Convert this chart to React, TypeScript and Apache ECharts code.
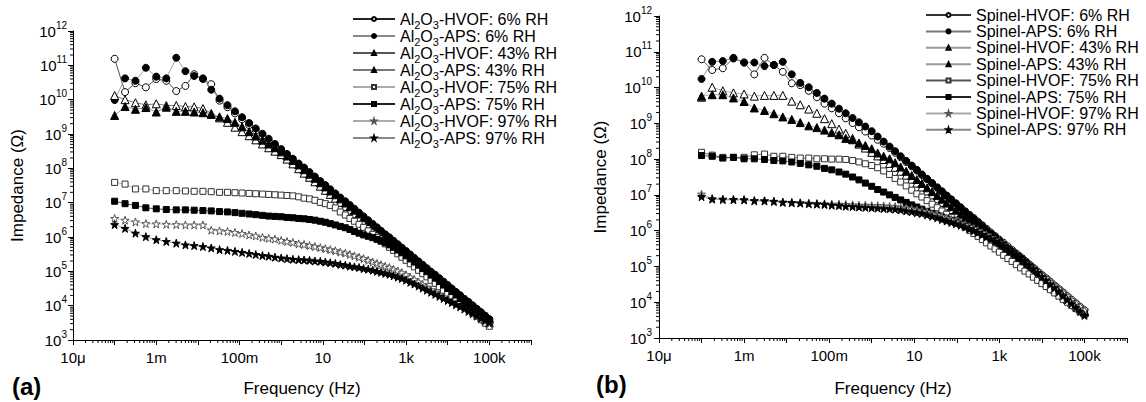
import React, { useEffect, useRef } from 'react';
import * as echarts from 'echarts';

// Frequency (Hz) of each measured point
const FREQ = [1e-4, 1.78e-4, 3.16e-4, 5.62e-4, 1e-3, 1.74e-3, 3.02e-3, 5.01e-3, 8.13e-3, 1.32e-2, 2.09e-2, 3.31e-2, 5.13e-2, 7.76e-2, 0.115, 0.17, 0.245, 0.355, 0.501, 0.708, 1, 1.38, 1.91, 2.63, 3.55, 4.79, 6.46, 8.71, 11.5, 15.1, 20, 26.3, 34.7, 44.7, 57.5, 74.1, 95.5, 123, 158, 200, 251, 316, 398, 501, 631, 794, 1000, 1259, 1585, 1995, 2512, 3162, 3981, 5012, 6310, 7943, 10000, 12589, 15849, 19953, 25119, 31623, 39811, 50119, 63096, 79433, 100000];

// Panel (a): Al2O3 coatings, impedance (Ohm)
const A_HVOF6 = [1.55e11, 1.66e10, 3.02e10, 2.29e10, 3.98e10, 3.55e10, 1.78e10, 2.51e10, 5.5e10, 3.98e10, 2.82e10, 9.33e9, 6.03e9, 3.98e9, 2.69e9, 1.82e9, 1.26e9, 8.91e8, 6.31e8, 4.47e8, 3.16e8, 2.29e8, 1.66e8, 1.2e8, 9.12e7, 6.76e7, 5.01e7, 3.72e7, 2.82e7, 2.14e7, 1.62e7, 1.23e7, 9.55e6, 7.41e6, 5.75e6, 4.47e6, 3.47e6, 2.69e6, 2.09e6, 1.66e6, 1.32e6, 1.05e6, 8.51e5, 6.76e5, 5.37e5, 4.27e5, 3.39e5, 2.69e5, 2.14e5, 1.7e5, 1.35e5, 1.07e5, 8.71e4, 6.92e4, 5.5e4, 4.37e4, 3.47e4, 2.75e4, 2.19e4, 1.74e4, 1.38e4, 1.12e4, 8.91e3, 7.08e3, 5.62e3, 4.47e3, 3.55e3];
const A_APS6 = [9.77e9, 4.17e10, 3.55e10, 8.51e10, 4.68e10, 4.17e10, 1.66e11, 6.76e10, 4.9e10, 4.17e10, 1.95e10, 1.07e10, 6.92e9, 4.57e9, 3.09e9, 2.09e9, 1.45e9, 1.02e9, 7.24e8, 5.13e8, 3.63e8, 2.63e8, 1.91e8, 1.38e8, 1.05e8, 7.76e7, 5.75e7, 4.27e7, 3.24e7, 2.45e7, 1.86e7, 1.41e7, 1.1e7, 8.51e6, 6.61e6, 5.13e6, 3.98e6, 3.09e6, 2.4e6, 1.91e6, 1.51e6, 1.2e6, 9.77e5, 7.76e5, 6.17e5, 4.9e5, 3.89e5, 3.09e5, 2.45e5, 1.95e5, 1.55e5, 1.23e5, 9.77e4, 7.94e4, 6.31e4, 5.01e4, 3.98e4, 3.16e4, 2.51e4, 2.0e4, 1.58e4, 1.29e4, 1.02e4, 8.13e3, 6.46e3, 5.13e3, 4.07e3];
const A_HVOF43 = [1.32e10, 1.0e10, 8.13e9, 7.08e9, 7.59e9, 6.76e9, 6.76e9, 6.31e9, 6.17e9, 5.5e9, 3.98e9, 2.95e9, 2.19e9, 1.58e9, 1.17e9, 8.91e8, 6.76e8, 5.13e8, 3.98e8, 3.16e8, 2.51e8, 1.86e8, 1.35e8, 9.77e7, 7.24e7, 5.5e7, 4.07e7, 3.02e7, 2.29e7, 1.74e7, 1.35e7, 1.02e7, 7.76e6, 6.03e6, 4.79e6, 3.72e6, 2.88e6, 2.24e6, 1.74e6, 1.41e6, 1.12e6, 8.91e5, 7.08e5, 5.62e5, 4.57e5, 3.63e5, 2.88e5, 2.29e5, 1.82e5, 1.48e5, 1.17e5, 9.33e4, 7.41e4, 5.89e4, 4.79e4, 3.8e4, 3.02e4, 2.4e4, 1.91e4, 1.55e4, 1.23e4, 9.77e3, 7.76e3, 6.17e3, 5.01e3, 3.98e3, 3.16e3];
const A_APS43 = [3.47e9, 6.31e9, 5.25e9, 5.89e9, 4.37e9, 6.03e9, 4.57e9, 4.57e9, 4.37e9, 4.17e9, 3.72e9, 3.16e9, 2.82e9, 2.19e9, 1.62e9, 1.17e9, 8.71e8, 6.61e8, 5.13e8, 3.98e8, 3.02e8, 2.29e8, 1.7e8, 1.26e8, 9.12e7, 6.76e7, 5.13e7, 3.8e7, 2.88e7, 2.19e7, 1.7e7, 1.29e7, 9.77e6, 7.59e6, 6.03e6, 4.68e6, 3.63e6, 2.82e6, 2.19e6, 1.78e6, 1.41e6, 1.12e6, 8.91e5, 7.08e5, 5.75e5, 4.57e5, 3.63e5, 2.88e5, 2.29e5, 1.86e5, 1.48e5, 1.17e5, 9.33e4, 7.41e4, 6.03e4, 4.79e4, 3.8e4, 3.02e4, 2.4e4, 1.95e4, 1.55e4, 1.23e4, 9.77e3, 7.76e3, 6.31e3, 5.01e3, 3.98e3];
const A_HVOF75 = [3.89e7, 3.47e7, 2.51e7, 2.51e7, 2.24e7, 2.24e7, 2.24e7, 2.19e7, 2.14e7, 2.14e7, 2.09e7, 2.0e7, 2.0e7, 1.95e7, 1.91e7, 1.86e7, 1.82e7, 1.78e7, 1.74e7, 1.7e7, 1.66e7, 1.62e7, 1.58e7, 1.48e7, 1.35e7, 1.29e7, 1.17e7, 1.02e7, 9.33e6, 8.32e6, 7.08e6, 5.37e6, 4.37e6, 3.47e6, 2.88e6, 2.34e6, 1.91e6, 1.51e6, 1.2e6, 9.77e5, 7.76e5, 6.31e5, 5.01e5, 4.07e5, 3.24e5, 2.57e5, 2.09e5, 1.66e5, 1.35e5, 1.07e5, 8.51e4, 6.92e4, 5.5e4, 4.47e4, 3.55e4, 2.82e4, 2.29e4, 1.82e4, 1.48e4, 1.17e4, 9.33e3, 7.59e3, 6.03e3, 4.9e3, 3.89e3, 3.09e3, 2.51e3];
const A_APS75 = [1.1e7, 9.33e6, 8.32e6, 7.08e6, 6.61e6, 6.31e6, 6.17e6, 6.17e6, 6.03e6, 5.89e6, 5.75e6, 5.5e6, 5.37e6, 5.13e6, 4.9e6, 4.68e6, 4.47e6, 4.27e6, 4.07e6, 3.98e6, 3.89e6, 3.72e6, 3.63e6, 3.47e6, 3.39e6, 3.24e6, 3.09e6, 2.88e6, 2.69e6, 2.45e6, 2.24e6, 2.04e6, 1.86e6, 1.66e6, 1.45e6, 1.29e6, 1.15e6, 1.05e6, 9.55e5, 8.51e5, 7.59e5, 6.76e5, 5.89e5, 5.01e5, 4.17e5, 3.47e5, 2.82e5, 2.29e5, 1.86e5, 1.51e5, 1.2e5, 9.77e4, 7.76e4, 6.31e4, 5.01e4, 3.98e4, 3.16e4, 2.57e4, 2.04e4, 1.62e4, 1.29e4, 1.05e4, 8.32e3, 6.61e3, 5.25e3, 4.27e3, 3.39e3];
const A_HVOF97 = [3.47e6, 3.09e6, 2.75e6, 2.45e6, 2.4e6, 2.34e6, 2.29e6, 2.24e6, 2.24e6, 2.24e6, 1.58e6, 1.51e6, 1.45e6, 1.35e6, 1.26e6, 1.15e6, 1.07e6, 9.77e5, 9.12e5, 8.71e5, 7.94e5, 7.41e5, 6.92e5, 6.31e5, 6.03e5, 5.62e5, 5.25e5, 4.9e5, 4.57e5, 4.27e5, 3.98e5, 3.63e5, 3.39e5, 3.09e5, 2.82e5, 2.57e5, 2.34e5, 2.09e5, 1.86e5, 1.7e5, 1.55e5, 1.41e5, 1.29e5, 1.15e5, 1.02e5, 9.12e4, 7.94e4, 6.76e4, 5.75e4, 4.9e4, 4.17e4, 3.47e4, 2.88e4, 2.45e4, 2.09e4, 1.78e4, 1.51e4, 1.29e4, 1.1e4, 9.33e3, 7.94e3, 6.76e3, 5.75e3, 4.9e3, 4.17e3, 3.55e3, 3.02e3];
const A_APS97 = [2.29e6, 1.78e6, 1.29e6, 1.02e6, 8.32e5, 7.41e5, 6.61e5, 5.89e5, 5.62e5, 5.25e5, 4.79e5, 4.27e5, 4.07e5, 3.8e5, 3.55e5, 3.31e5, 3.09e5, 2.88e5, 2.75e5, 2.57e5, 2.45e5, 2.34e5, 2.24e5, 2.19e5, 2.14e5, 2.09e5, 2.0e5, 1.95e5, 1.86e5, 1.78e5, 1.7e5, 1.58e5, 1.51e5, 1.41e5, 1.35e5, 1.29e5, 1.2e5, 1.15e5, 1.07e5, 1.0e5, 9.33e4, 8.71e4, 8.13e4, 7.41e4, 6.76e4, 6.17e4, 5.5e4, 4.79e4, 4.27e4, 3.72e4, 3.24e4, 2.82e4, 2.45e4, 2.14e4, 1.86e4, 1.62e4, 1.41e4, 1.23e4, 1.07e4, 9.33e3, 8.13e3, 6.92e3, 6.03e3, 5.13e3, 4.37e3, 3.8e3, 3.24e3];

// Panel (b): Spinel coatings, impedance (Ohm)
const B_HVOF6 = [6.17e10, 3.09e10, 3.47e10, 6.46e10, 5.01e10, 2.34e10, 6.76e10, 4.27e10, 2.75e10, 1.32e10, 1.17e10, 8.13e9, 5.37e9, 3.55e9, 2.63e9, 1.91e9, 1.38e9, 1.02e9, 7.76e8, 5.89e8, 4.57e8, 3.47e8, 2.69e8, 2.04e8, 1.51e8, 1.12e8, 8.32e7, 6.31e7, 4.79e7, 3.63e7, 2.75e7, 2.09e7, 1.58e7, 1.23e7, 9.55e6, 7.41e6, 5.75e6, 4.47e6, 3.47e6, 2.75e6, 2.24e6, 1.78e6, 1.41e6, 1.12e6, 8.91e5, 7.08e5, 5.62e5, 4.57e5, 3.63e5, 2.88e5, 2.29e5, 1.82e5, 1.45e5, 1.15e5, 9.12e4, 7.24e4, 5.75e4, 4.68e4, 3.72e4, 2.95e4, 2.34e4, 1.86e4, 1.48e4, 1.17e4, 9.33e3, 7.41e3, 6.03e3];
const B_APS6 = [1.74e10, 5.25e10, 5.5e10, 6.76e10, 5.01e10, 5.01e10, 3.98e10, 4.27e10, 5.25e10, 2.34e10, 1.35e10, 1.02e10, 7.08e9, 4.9e9, 3.55e9, 2.57e9, 1.91e9, 1.41e9, 1.07e9, 8.13e8, 6.03e8, 4.27e8, 3.09e8, 2.24e8, 1.66e8, 1.2e8, 8.91e7, 6.61e7, 5.01e7, 3.72e7, 2.82e7, 2.14e7, 1.62e7, 1.26e7, 9.55e6, 7.41e6, 5.75e6, 4.47e6, 3.39e6, 2.69e6, 2.14e6, 1.7e6, 1.35e6, 1.05e6, 8.32e5, 6.61e5, 5.25e5, 4.17e5, 3.24e5, 2.57e5, 2.04e5, 1.62e5, 1.29e5, 1.0e5, 7.94e4, 6.31e4, 5.01e4, 3.98e4, 3.09e4, 2.45e4, 1.95e4, 1.55e4, 1.23e4, 9.55e3, 7.59e3, 6.03e3, 4.79e3];
const B_HVOF43 = [5.37e9, 1.02e10, 8.13e9, 7.08e9, 6.61e9, 5.75e9, 6.03e9, 6.03e9, 6.03e9, 4.17e9, 3.31e9, 2.51e9, 1.91e9, 1.35e9, 9.77e8, 6.92e8, 5.25e8, 3.8e8, 2.63e8, 2.04e8, 1.55e8, 1.23e8, 9.77e7, 7.59e7, 5.89e7, 4.57e7, 3.55e7, 2.75e7, 2.14e7, 1.66e7, 1.29e7, 1.0e7, 7.76e6, 6.17e6, 4.9e6, 3.89e6, 3.09e6, 2.45e6, 1.95e6, 1.58e6, 1.29e6, 1.05e6, 8.32e5, 6.76e5, 5.5e5, 4.47e5, 3.63e5, 2.88e5, 2.34e5, 1.91e5, 1.55e5, 1.26e5, 1.0e5, 8.13e4, 6.61e4, 5.37e4, 4.37e4, 3.47e4, 2.82e4, 2.29e4, 1.86e4, 1.51e4, 1.2e4, 9.77e3, 7.94e3, 6.46e3, 5.25e3];
const B_APS43 = [5.75e9, 6.31e9, 6.31e9, 5.13e9, 4.07e9, 2.69e9, 2.29e9, 1.86e9, 1.51e9, 1.29e9, 1.05e9, 8.51e8, 7.59e8, 6.46e8, 5.5e8, 4.79e8, 3.8e8, 3.47e8, 2.82e8, 2.4e8, 1.95e8, 1.48e8, 1.2e8, 1.02e8, 7.94e7, 6.03e7, 4.57e7, 3.47e7, 2.69e7, 2.09e7, 1.58e7, 1.23e7, 9.55e6, 7.59e6, 5.89e6, 4.68e6, 3.72e6, 2.88e6, 2.29e6, 1.86e6, 1.48e6, 1.2e6, 9.77e5, 7.76e5, 6.31e5, 5.01e5, 4.07e5, 3.31e5, 2.63e5, 2.14e5, 1.7e5, 1.38e5, 1.12e5, 8.91e4, 7.24e4, 5.75e4, 4.68e4, 3.8e4, 3.02e4, 2.45e4, 1.95e4, 1.58e4, 1.26e4, 1.02e4, 8.32e3, 6.61e3, 5.37e3];
const B_HVOF75 = [1.55e8, 1.29e8, 1.12e8, 1.12e8, 1.12e8, 1.32e8, 1.38e8, 1.2e8, 1.2e8, 1.12e8, 1.07e8, 1.07e8, 1.02e8, 1.02e8, 1.0e8, 1.0e8, 9.77e7, 9.12e7, 8.32e7, 7.41e7, 6.61e7, 5.75e7, 4.68e7, 3.72e7, 2.88e7, 2.29e7, 1.78e7, 1.35e7, 1.07e7, 8.71e6, 6.92e6, 5.5e6, 4.37e6, 3.55e6, 2.88e6, 2.34e6, 1.91e6, 1.55e6, 1.26e6, 1.02e6, 8.32e5, 6.92e5, 5.62e5, 4.57e5, 3.72e5, 3.09e5, 2.51e5, 2.04e5, 1.66e5, 1.38e5, 1.12e5, 9.12e4, 7.41e4, 6.17e4, 5.01e4, 4.07e4, 3.31e4, 2.75e4, 2.24e4, 1.82e4, 1.48e4, 1.2e4, 1.0e4, 8.13e3, 6.61e3, 5.37e3, 4.47e3];
const B_APS75 = [1.26e8, 1.2e8, 1.07e8, 1.12e8, 1.02e8, 1.02e8, 9.77e7, 9.12e7, 8.91e7, 8.32e7, 7.59e7, 6.92e7, 6.31e7, 5.5e7, 5.01e7, 4.37e7, 3.8e7, 3.16e7, 2.63e7, 2.14e7, 1.74e7, 1.41e7, 1.2e7, 1.0e7, 8.51e6, 7.24e6, 6.17e6, 5.25e6, 4.57e6, 3.98e6, 3.47e6, 3.02e6, 2.69e6, 2.4e6, 2.14e6, 1.95e6, 1.74e6, 1.55e6, 1.35e6, 1.17e6, 1.05e6, 9.12e5, 7.94e5, 6.92e5, 6.03e5, 5.13e5, 4.37e5, 3.72e5, 3.09e5, 2.57e5, 2.09e5, 1.7e5, 1.35e5, 1.07e5, 8.51e4, 6.76e4, 5.37e4, 4.27e4, 3.39e4, 2.69e4, 2.14e4, 1.66e4, 1.32e4, 1.02e4, 8.13e3, 6.31e3, 5.01e3];
const B_HVOF97 = [1.05e7, 7.94e6, 7.24e6, 7.24e6, 7.41e6, 6.76e6, 6.92e6, 6.46e6, 6.31e6, 6.17e6, 6.03e6, 5.89e6, 5.75e6, 5.62e6, 5.5e6, 5.5e6, 5.37e6, 5.25e6, 5.13e6, 5.13e6, 5.01e6, 5.01e6, 4.9e6, 4.79e6, 4.68e6, 4.47e6, 4.27e6, 4.07e6, 3.8e6, 3.55e6, 3.31e6, 3.02e6, 2.75e6, 2.51e6, 2.24e6, 2.04e6, 1.82e6, 1.62e6, 1.45e6, 1.29e6, 1.15e6, 1.0e6, 8.71e5, 7.59e5, 6.46e5, 5.5e5, 4.68e5, 3.98e5, 3.31e5, 2.75e5, 2.29e5, 1.91e5, 1.51e5, 1.2e5, 9.55e4, 7.59e4, 6.03e4, 4.79e4, 3.8e4, 3.02e4, 2.4e4, 1.91e4, 1.51e4, 1.2e4, 9.55e3, 7.59e3, 6.03e3];
const B_APS97 = [8.91e6, 7.59e6, 7.59e6, 7.41e6, 7.24e6, 6.92e6, 6.76e6, 6.61e6, 6.17e6, 6.03e6, 5.89e6, 5.62e6, 5.5e6, 5.37e6, 5.13e6, 5.01e6, 4.79e6, 4.68e6, 4.57e6, 4.47e6, 4.37e6, 4.27e6, 4.17e6, 4.07e6, 3.98e6, 3.8e6, 3.55e6, 3.39e6, 3.16e6, 3.02e6, 2.75e6, 2.51e6, 2.29e6, 2.04e6, 1.86e6, 1.7e6, 1.55e6, 1.41e6, 1.26e6, 1.12e6, 1.0e6, 8.91e5, 7.76e5, 6.76e5, 5.89e5, 5.13e5, 4.47e5, 3.8e5, 3.24e5, 2.69e5, 2.24e5, 1.86e5, 1.45e5, 1.12e5, 8.71e4, 6.76e4, 5.25e4, 4.07e4, 3.16e4, 2.51e4, 1.95e4, 1.51e4, 1.17e4, 9.12e3, 7.08e3, 5.5e3, 4.27e3];

const A_NAMES = ['Al2O3-HVOF: 6% RH', 'Al2O3-APS: 6% RH', 'Al2O3-HVOF: 43% RH', 'Al2O3-APS: 43% RH', 'Al2O3-HVOF: 75% RH', 'Al2O3-APS: 75% RH', 'Al2O3-HVOF: 97% RH', 'Al2O3-APS: 97% RH'];
const B_NAMES = ['Spinel-HVOF: 6% RH', 'Spinel-APS: 6% RH', 'Spinel-HVOF: 43% RH', 'Spinel-APS: 43% RH', 'Spinel-HVOF: 75% RH', 'Spinel-APS: 75% RH', 'Spinel-HVOF: 97% RH', 'Spinel-APS: 97% RH'];

// x tick labels for exponents -5 .. 6
const X_TICK_LABELS = ['10μ', '', '1m', '', '100m', '', '10', '', '1k', '', '100k', ''];
const X_EXP_MIN = -5;
const X_EXP_MAX = 6;
const Y_EXP_MIN = 3;
const Y_EXP_MAX = 12;

const STAR = 'path://M50,0L61.2,34.5L97.6,34.5L68.2,55.9L79.4,90.5L50,69.1L20.6,90.5L31.8,55.9L2.4,34.5L38.8,34.5Z';
const FONT = '"Liberation Sans", Arial, Helvetica, sans-serif';

type Style = { symbol: string; size: number; fill: string; border: string; line: string };
const A_STYLES: Style[] = [
  { symbol: 'circle', size: 7, fill: '#fff', border: '#000', line: '#222' },
  { symbol: 'circle', size: 7, fill: '#000', border: '#000', line: '#888' },
  { symbol: 'triangle', size: 8, fill: '#fff', border: '#000', line: '#555' },
  { symbol: 'triangle', size: 8, fill: '#000', border: '#000', line: '#777' },
  { symbol: 'rect', size: 6, fill: '#fff', border: '#333', line: '#aaa' },
  { symbol: 'rect', size: 6, fill: '#000', border: '#000', line: '#222' },
  { symbol: STAR, size: 8, fill: '#fff', border: '#555', line: '#aaa' },
  { symbol: STAR, size: 8, fill: '#000', border: '#000', line: '#888' },
];
const B_STYLES: Style[] = [
  { symbol: 'circle', size: 7, fill: '#fff', border: '#000', line: '#333' },
  { symbol: 'circle', size: 7, fill: '#000', border: '#000', line: '#777' },
  { symbol: 'triangle', size: 8, fill: '#fff', border: '#000', line: '#999' },
  { symbol: 'triangle', size: 8, fill: '#000', border: '#000', line: '#999' },
  { symbol: 'rect', size: 6, fill: '#fff', border: '#333', line: '#555' },
  { symbol: 'rect', size: 6, fill: '#000', border: '#000', line: '#222' },
  { symbol: STAR, size: 8, fill: '#fff', border: '#555', line: '#aaa' },
  { symbol: STAR, size: 8, fill: '#000', border: '#000', line: '#888' },
];

const A_DATA = [A_HVOF6, A_APS6, A_HVOF43, A_APS43, A_HVOF75, A_APS75, A_HVOF97, A_APS97];
const B_DATA = [B_HVOF6, B_APS6, B_HVOF43, B_APS43, B_HVOF75, B_APS75, B_HVOF97, B_APS97];

function minorValues(lo: number, hi: number): number[] {
  const out: number[] = [];
  for (let k = lo; k < hi; k++) for (let m = 2; m <= 9; m++) out.push(m * Math.pow(10, k));
  return out;
}

function lineSeries(names: string[], datas: number[][], styles: Style[], xIdx: number, yIdx: number) {
  return names.map((name, i) => {
    const s = styles[i];
    return {
      type: 'line',
      name,
      xAxisIndex: xIdx,
      yAxisIndex: yIdx,
      data: FREQ.map((f, j) => [f, datas[i][j]]),
      symbol: s.symbol,
      symbolSize: s.size,
      showSymbol: true,
      lineStyle: { color: s.line, width: 0.8 },
      itemStyle: { color: s.fill, borderColor: s.border, borderWidth: 1 },
      emphasis: { disabled: true },
      silent: true,
      z: 2 + i * 0.01,
    };
  });
}

function minorTickSeries(xIdx: number, yIdx: number) {
  const xMin = Math.pow(10, X_EXP_MIN);
  const yMin = Math.pow(10, Y_EXP_MIN);
  const data = [
    ...minorValues(X_EXP_MIN, X_EXP_MAX).map((v) => [v, yMin, 0]),
    ...minorValues(Y_EXP_MIN, Y_EXP_MAX).map((v) => [xMin, v, 1]),
  ];
  return {
    type: 'custom',
    xAxisIndex: xIdx,
    yAxisIndex: yIdx,
    silent: true,
    clip: false,
    z: 5,
    data,
    renderItem: (_params: any, api: any) => {
      const p = api.coord([api.value(0), api.value(1)]);
      const horiz = api.value(2) === 1;
      return {
        type: 'line',
        shape: horiz
          ? { x1: p[0] - 3, y1: p[1], x2: p[0], y2: p[1] }
          : { x1: p[0], y1: p[1], x2: p[0], y2: p[1] + 3 },
        style: { stroke: '#000', lineWidth: 1 },
      };
    },
  };
}

function xAxes(grid: number, nameGap: number) {
  return [
    {
      type: 'log',
      logBase: 10,
      gridIndex: grid,
      position: 'bottom',
      min: Math.pow(10, X_EXP_MIN),
      max: Math.pow(10, X_EXP_MAX),
      axisLine: { show: true, onZero: false, lineStyle: { color: '#000', width: 1 } },
      axisTick: { show: false },
      axisLabel: { show: false },
      splitLine: { show: false },
    },
    {
      type: 'value',
      gridIndex: grid,
      position: 'bottom',
      min: X_EXP_MIN,
      max: X_EXP_MAX,
      interval: 1,
      axisLine: { show: false, onZero: false },
      axisTick: { show: true, length: 5, lineStyle: { color: '#000', width: 1 } },
      axisLabel: {
        margin: 10,
        fontSize: 15,
        color: '#000',
        formatter: (v: number) => X_TICK_LABELS[Math.round(v) - X_EXP_MIN] ?? '',
      },
      splitLine: { show: false },
      name: 'Frequency (Hz)',
      nameLocation: 'middle',
      nameGap,
      nameTextStyle: { fontSize: 17, color: '#000' },
    },
  ];
}

function yAxis(grid: number, nameGap: number, margin: number) {
  return {
    type: 'log',
    logBase: 10,
    gridIndex: grid,
    min: Math.pow(10, Y_EXP_MIN),
    max: Math.pow(10, Y_EXP_MAX),
    splitNumber: 9,
    axisLine: { show: true, onZero: false, lineStyle: { color: '#000', width: 1 } },
    axisTick: { show: true, length: 5, lineStyle: { color: '#000', width: 1 } },
    axisLabel: {
      margin,
      color: '#000',
      formatter: (v: number) => `{b|10}{s|${Math.round(Math.log10(v))}}`,
      rich: {
        b: { fontSize: 15, lineHeight: 22, color: '#000' },
        s: { fontSize: 10, lineHeight: 22, padding: [0, 0, 12, 0], color: '#000' },
      },
    },
    splitLine: { show: false },
    name: 'Impedance (Ω)',
    nameLocation: 'middle',
    nameRotate: 90,
    nameGap,
    nameTextStyle: { fontSize: 17, color: '#000' },
  };
}

export default function App() {
  const ref = useRef<HTMLDivElement>(null);
  useEffect(() => {
    if (!ref.current) return;
    const chart = echarts.init(ref.current, null, { renderer: 'svg' });
    chart.setOption({
      animation: false,
      backgroundColor: '#fff',
      textStyle: { fontFamily: FONT },
      grid: [
        { left: 73, top: 31, width: 458, height: 314 },
        { left: 659, top: 16, width: 468, height: 327 },
      ],
      xAxis: [...xAxes(0, 40), ...xAxes(1, 42)],
      yAxis: [yAxis(0, 47, 6), yAxis(1, 50, 7)],
      legend: [
        {
          data: A_NAMES,
          orient: 'vertical',
          left: 352,
          top: 7.5,
          padding: 0,
          itemWidth: 42,
          itemHeight: 5,
          itemGap: -6.0,
          selectedMode: false,
          formatter: (n: string) => n.replace('Al2O3', 'Al{sub|2}O{sub|3}'),
          textStyle: {
            fontSize: 16,
            lineHeight: 16,
            color: '#000',
            rich: { sub: { fontSize: 11, lineHeight: 23, padding: [12, 0, 0, 0], color: '#000' } },
          },
        },
        {
          data: B_NAMES,
          orient: 'vertical',
          left: 925,
          top: 7,
          padding: 0,
          itemWidth: 45,
          itemHeight: 5,
          itemGap: 0.4,
          selectedMode: false,
          textStyle: { fontSize: 16, lineHeight: 16, color: '#000' },
        },
      ],
      graphic: [
        { type: 'text', left: 12, top: 374, style: { text: '(a)', font: `bold 24px ${FONT}`, fill: '#000' } },
        { type: 'text', left: 596, top: 372, style: { text: '(b)', font: `bold 24px ${FONT}`, fill: '#000' } },
      ],
      series: [
        ...lineSeries(A_NAMES, A_DATA, A_STYLES, 0, 0),
        ...lineSeries(B_NAMES, B_DATA, B_STYLES, 2, 1),
        minorTickSeries(0, 0),
        minorTickSeries(2, 1),
      ],
    });
    return () => chart.dispose();
  }, []);
  return <div ref={ref} style={{ position: 'absolute', left: 0, top: 0, width: 1146, height: 402 }} />;
}
